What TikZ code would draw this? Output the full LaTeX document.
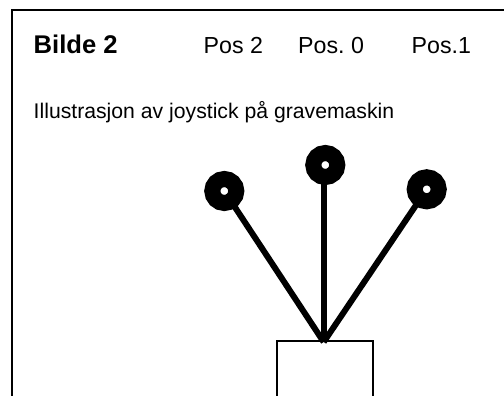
\documentclass[tikz,border=0pt]{standalone}
\usepackage{fontspec}
\setmainfont{Liberation Sans}
\usetikzlibrary{positioning}
\tikzset{knob/.style={circle,draw,fill=white,line width=16pt,inner sep=0pt,outer sep=0pt,minimum size=24pt}}
\tikzset{stick/.style={line width=6pt}}
\tikzset{outline/.style={line width=2pt}}
\tikzset{caption/.style={anchor=base west,inner sep=0pt,font=\fontsize{21.2}{25}\selectfont}}
\tikzset{postext/.style={anchor=base west,inner sep=0pt,font=\fontsize{23.2}{28}\selectfont}}

\begin{document}
\begin{tikzpicture}[x=1pt,y=-1pt]
    \useasboundingbox (0,0) rectangle (504,396);
    \coordinate (framestart) at (504,10.5);
    \coordinate (framecorner) at (12,10.5);
    \coordinate (frameend) at (12,396);
    \draw[outline] (framestart) -- (framecorner) -- (frameend);

    \node[postext,font=\fontsize{25.6}{30}\selectfont\bfseries] (title) at (33.5,54) {Bilde 2};
    \node[postext] (pos2) at (203.5,54) {Pos 2};
    \node[postext] (pos0) at (298,54) {Pos.\ 0};
    \node[postext] (pos1) at (411.5,54) {Pos.1};
    \node[caption] (caption) at (33.5,118) {Illustrasjon av joystick på gravemaskin};

    \coordinate (boxleft) at (276.5,396);
    \coordinate (boxtopleft) at (276.5,341);
    \coordinate (boxtopright) at (373,341);
    \coordinate (boxright) at (373,396);
    \draw[outline] (boxleft) -- (boxtopleft) -- (boxtopright) -- (boxright);

    \coordinate (pivot) at (323.7,342);
    \node[knob] (left) at (224.3,191) {};
    \node[knob] (mid) at (325.3,165) {};
    \node[knob] (right) at (426.7,189.3) {};
    \path[stick,draw]
        (left) edge (pivot)
        (pivot) edge (pivot |- mid.south)
        (right) edge (pivot)
        ;
\end{tikzpicture}
\end{document}
